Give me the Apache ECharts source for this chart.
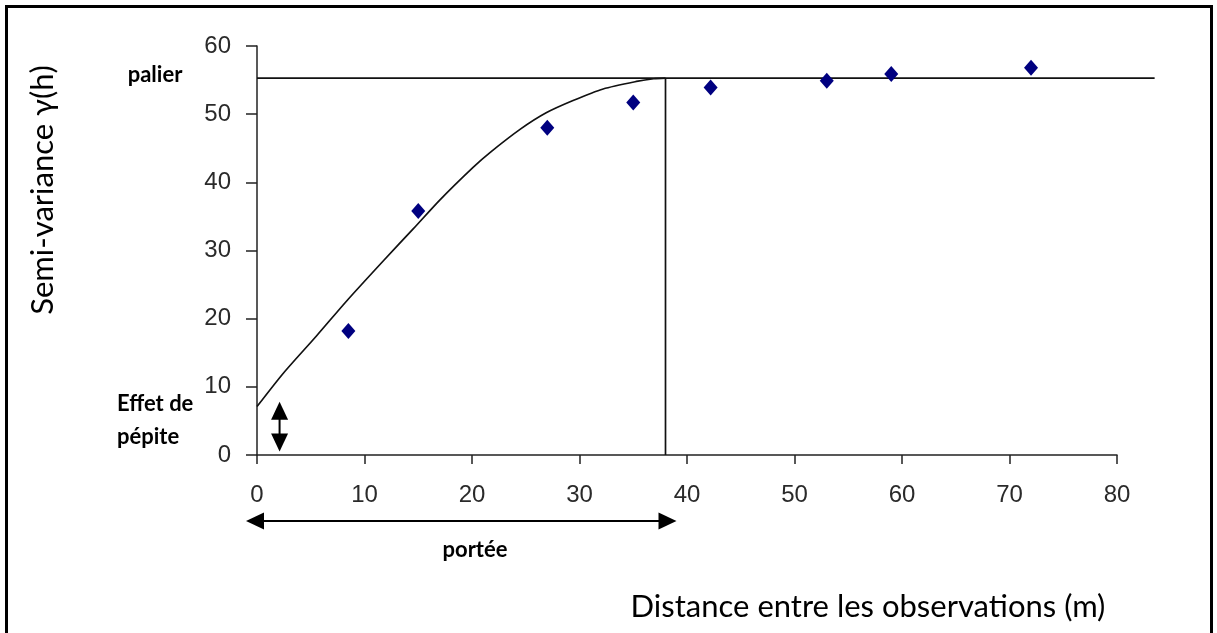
<!DOCTYPE html>
<html>
<head>
<meta charset="utf-8">
<script src="https://cdn.jsdelivr.net/npm/echarts@6/dist/echarts.min.js"></script>
<style>
  html, body { margin: 0; padding: 0; background: #fff; }
  #chart { width: 1217px; height: 633px; }
</style>
</head>
<body>
<div id="chart"></div>
<script>
// Experimental semi-variogram (distance in m, semi-variance)
const lagDistance  = [8.5, 15.0, 27.0, 35.0, 42.2, 53.0, 59.0, 72.0];
const semiVariance = [18.2, 35.8, 48.0, 51.7, 53.9, 54.9, 55.9, 56.8];

// Fitted model curve, read point by point up to the range
const modelDistance = [0, 2.45, 5.55, 8.34, 11.76, 14.55, 17.0, 20.1, 21.7, 24.5, 26.9, 29.4, 32.2, 35.3, 36.9, 38.0];
const modelVariance = [7.1, 12.0, 17.5, 22.6, 28.5, 33.2, 37.4, 42.2, 44.4, 47.8, 50.2, 52.0, 53.7, 54.8, 55.2, 55.3];

// Model parameters
const sill = 55.3;        // palier
const range = 38;         // portée
const sillLineEnd = 83.5; // horizontal sill line runs past the last tick
const nuggetArrow = [2.1, 0.5, 2.1, 7.8];   // x, y from, x, y to
const rangeArrowY = -9.7;                    // below the x axis

const chart = echarts.init(document.getElementById('chart'), null, { renderer: 'canvas' });

const tickFont = { fontFamily: '"Liberation Sans Narrow", "Liberation Sans", Arial, sans-serif', fontSize: 24, color: '#2a2a2a' };
const noteFont = 'bold 22px Lato, "Open Sans", sans-serif';
const titleFont = '31px Lato, "Open Sans", sans-serif';

// Straight segment between two data points (may run outside the axis range)
function segmentRenderer(params, api) {
  const p1 = api.coord([api.value(0), api.value(1)]);
  const p2 = api.coord([api.value(2), api.value(3)]);
  return {
    type: 'line',
    shape: { x1: p1[0], y1: p1[1], x2: p2[0], y2: p2[1] },
    style: { stroke: '#111', lineWidth: 1.7 }
  };
}

// Double-headed arrow drawn between two data points; `overhang` pushes tips outward in px
function makeArrowRenderer(overhang) {
  return function (params, api) {
    const p1 = api.coord([api.value(0), api.value(1)]);
    const p2 = api.coord([api.value(2), api.value(3)]);
    const dx = p2[0] - p1[0], dy = p2[1] - p1[1];
    const len = Math.hypot(dx, dy);
    const ux = dx / len, uy = dy / len, nx = -uy, ny = ux;
    const a = [p1[0] - ux * overhang, p1[1] - uy * overhang];
    const b = [p2[0] + ux * overhang, p2[1] + uy * overhang];
    const hl = 18, hw = 8.5;
    const headB = [b, [b[0] - ux * hl + nx * hw, b[1] - uy * hl + ny * hw], [b[0] - ux * hl - nx * hw, b[1] - uy * hl - ny * hw]];
    const headA = [a, [a[0] + ux * hl + nx * hw, a[1] + uy * hl + ny * hw], [a[0] + ux * hl - nx * hw, a[1] + uy * hl - ny * hw]];
    return {
      type: 'group',
      children: [
        { type: 'line', shape: { x1: a[0] + ux * 6, y1: a[1] + uy * 6, x2: b[0] - ux * 6, y2: b[1] - uy * 6 }, style: { stroke: '#000', lineWidth: 2 } },
        { type: 'polygon', shape: { points: headA }, style: { fill: '#000' } },
        { type: 'polygon', shape: { points: headB }, style: { fill: '#000' } }
      ]
    };
  };
}

chart.setOption({
  animation: false,
  backgroundColor: '#fff',
  grid: { left: 257, right: 100, top: 46, bottom: 178 },
  xAxis: {
    type: 'value', min: 0, max: 80, interval: 10,
    axisLine: { show: true, onZero: false, lineStyle: { color: '#222', width: 1.5 } },
    axisTick: { show: true, inside: false, length: 9, lineStyle: { color: '#222', width: 1.5 } },
    axisLabel: Object.assign({ margin: 28 }, tickFont),
    splitLine: { show: false }
  },
  yAxis: {
    type: 'value', min: 0, max: 60, interval: 10,
    axisLine: { show: true, onZero: false, lineStyle: { color: '#222', width: 1.5 } },
    axisTick: { show: true, inside: false, length: 11, lineStyle: { color: '#222', width: 1.5 } },
    axisLabel: Object.assign({ margin: 26 }, tickFont),
    splitLine: { show: false }
  },
  series: [
    {
      name: 'palier et portée', type: 'custom', clip: false, silent: true,
      renderItem: segmentRenderer,
      data: [[0, sill, sillLineEnd, sill], [range, 0, range, sill]]
    },
    {
      name: 'modèle', type: 'line', smooth: 0.25, symbol: 'none', silent: true,
      data: modelDistance.map((d, i) => [d, modelVariance[i]]),
      lineStyle: { color: '#111', width: 1.7 }
    },
    {
      name: 'semi-variance', type: 'scatter', symbol: 'diamond', symbolSize: [14, 16],
      data: lagDistance.map((d, i) => [d, semiVariance[i]]),
      itemStyle: { color: '#000080', opacity: 1 }
    },
    {
      name: 'effet de pépite', type: 'custom', clip: false, silent: true,
      renderItem: makeArrowRenderer(0),
      data: [nuggetArrow]
    },
    {
      name: 'portée flèche', type: 'custom', clip: false, silent: true,
      renderItem: makeArrowRenderer(11),
      data: [[0, rangeArrowY, range, rangeArrowY]]
    }
  ],
  graphic: [
    { type: 'rect', shape: { x: 6.5, y: 6.5, width: 1205, height: 700 }, style: { fill: 'none', stroke: '#000', lineWidth: 3 }, silent: true },
    { type: 'text', x: 155, y: 75, style: { text: 'palier', font: noteFont, fill: '#000', align: 'center', verticalAlign: 'middle' } },
    { type: 'text', x: 117, y: 404, style: { text: 'Effet de', font: noteFont, fill: '#000', align: 'left', verticalAlign: 'middle' } },
    { type: 'text', x: 117, y: 437, style: { text: 'pépite', font: noteFont, fill: '#000', align: 'left', verticalAlign: 'middle' } },
    { type: 'text', x: 475, y: 550, style: { text: 'portée', font: noteFont, fill: '#000', align: 'center', verticalAlign: 'middle' } },
    { type: 'text', x: 43, y: 190, rotation: Math.PI / 2,
      style: { text: 'Semi-variance γ(h)', font: titleFont, fill: '#000', align: 'center', verticalAlign: 'middle' } },
    { type: 'text', x: 868, y: 607,
      style: { text: 'Distance entre les observations (m)', font: titleFont, fill: '#000', align: 'center', verticalAlign: 'middle' } }
  ]
});
</script>
</body>
</html>
